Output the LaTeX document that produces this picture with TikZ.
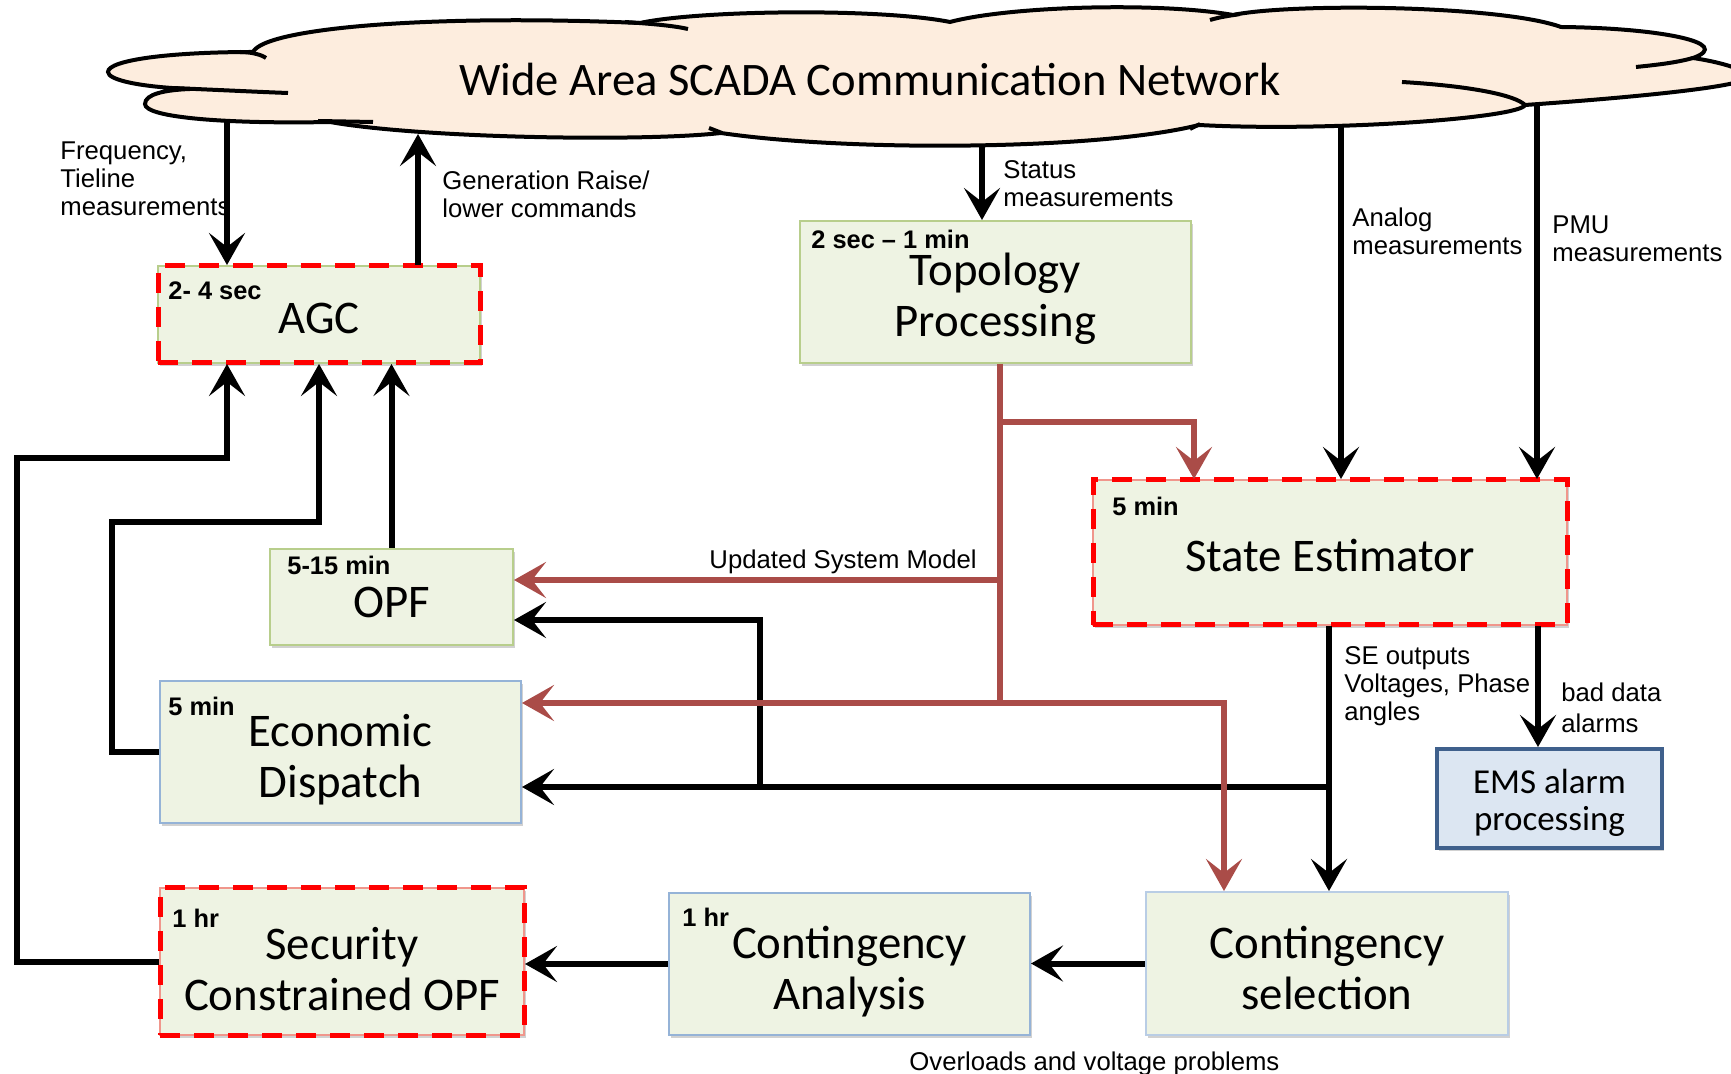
\documentclass[tikz,border=0pt]{standalone}
\usepackage{fontspec}
\newfontfamily\boxfont{Carlito}
\newfontfamily\lblfont{Liberation Sans}
\usetikzlibrary{arrows.meta,shadows}

\definecolor{cloudfill}{RGB}{253,237,222}
\definecolor{boxfill}{RGB}{238,243,227}
\definecolor{greenedge}{RGB}{184,206,140}
\definecolor{blueedge}{RGB}{149,179,215}
\definecolor{paleblueedge}{RGB}{185,205,229}
\definecolor{pinkedge}{RGB}{240,150,140}
\definecolor{critred}{RGB}{255,0,0}
\definecolor{emsfill}{RGB}{220,230,242}
\definecolor{emsedge}{RGB}{63,96,140}
\definecolor{modelred}{RGB}{170,76,72}

% invisible strut that sets the top of a block's first text line
\newcommand{\boxstrut}[1]{\rule{0pt}{#1}}

\begin{document}
\begin{tikzpicture}[x=0.5pt,y=-0.5pt,
  every node/.style={inner sep=0pt},
  cloudline/.style={draw=black, line width=2pt},
  block/.style={fill=boxfill, line width=1pt, align=center,
    font=\boxfont\fontsize{23.4}{25.5}\selectfont,
    drop shadow={shadow xshift=0.8pt, shadow yshift=-1.5pt, opacity=0.18, fill=black}},
  greenblock/.style={block, draw=greenedge},
  blueblock/.style={block, draw=blueedge},
  critical/.style={block, draw=#1,
    postaction={draw=critred, line width=2.5pt, dash pattern=on 10pt off 7pt}},
  critical/.default=greenedge,
  emsblock/.style={block, fill=emsfill, draw=emsedge, line width=2pt,
    font=\boxfont\fontsize{17.5}{18.75}\selectfont},
  timing/.style={anchor=west, font=\lblfont\bfseries\fontsize{12.7}{14}\selectfont},
  note/.style={anchor=west, align=left, font=\lblfont\fontsize{12.85}{14}\selectfont},
  flow/.style={line width=3pt, -{Stealth[length=16pt,width=18pt,inset=7pt]}},
  model/.style={flow, draw=modelred},
  modelline/.style={line width=3pt, draw=modelred}
]
\useasboundingbox (0,0) rectangle (1731,1074);
\fill[white] (0,0) rectangle (1731,1074);

% ---- SCADA cloud ----
\filldraw[cloudline, fill=cloudfill]
  (108,72) .. controls (108,60) and (170,52) .. (253,52)
  .. controls (265,28) and (430,14) .. (640,23)
  .. controls (700,10) and (880,8) .. (950,22)
  .. controls (1010,6) and (1160,2) .. (1233,15)
  .. controls (1290,3) and (1500,5) .. (1561,27)
  .. controls (1660,28) and (1735,43) .. (1693,58)
  .. controls (1720,62) and (1748,70) .. (1748,77)
  .. controls (1748,86) and (1640,97) .. (1525,105)
  .. controls (1520,118) and (1330,132) .. (1199,125)
  .. controls (1100,150) and (850,152) .. (721,133)
  .. controls (640,142) and (420,138) .. (330,122)
  .. controls (230,124) and (145,118) .. (145,104)
  .. controls (145,94) and (165,90) .. (190,89)
  .. controls (140,87) and (108,80) .. (108,72) -- cycle;
% inner folds of the cloud
\draw[cloudline] (172,88) .. controls (220,90) and (260,92) .. (288,93);
\draw[cloudline] (318,121) -- (373,122);
\draw[cloudline] (240,52) .. controls (252,52) and (262,55) .. (266,58);
\draw[cloudline] (625,22) .. controls (655,24) and (675,26) .. (688,29);
\draw[cloudline] (1210,20) .. controls (1220,17) and (1228,16) .. (1240,14);
\draw[cloudline] (1693,58) .. controls (1675,63) and (1655,65) .. (1636,67);
\draw[cloudline] (1402,82) .. controls (1470,86) and (1515,95) .. (1525,105);
\draw[cloudline] (709,128) -- (722,133);
\draw[cloudline] (1190,129) -- (1200,124);

\node[font=\boxfont\fontsize{23.3}{26}\selectfont] (scada) at (870,79)
  {Wide Area SCADA Communication Network};

% ---- functional blocks ----
\node[critical=greenedge, minimum width=161pt, minimum height=48.5pt] (agc) at (319,314.5)
  {\boxstrut{19.4pt}AGC};
\node[greenblock, minimum width=195.5pt, minimum height=71pt] (topo) at (995.5,292)
  {\boxstrut{22.8pt}Topology\\Processing};
\node[critical=pinkedge, minimum width=237pt, minimum height=72.5pt] (se) at (1330,552.5)
  {\boxstrut{19.6pt}State Estimator};
\node[greenblock, minimum width=121.5pt, minimum height=48pt] (opf) at (391.5,597)
  {\boxstrut{20.5pt}OPF};
\node[blueblock, minimum width=180.5pt, minimum height=71pt] (ed) at (340.5,752)
  {\boxstrut{23.5pt}Economic\\Dispatch};
\node[emsblock, minimum width=112.5pt, minimum height=49.5pt] (ems) at (1549.5,798.5)
  {\boxstrut{16.4pt}EMS alarm\\processing};
\node[critical=pinkedge, minimum width=182pt, minimum height=73.5pt] (scopf) at (342,961.5)
  {\boxstrut{23.5pt}Security\\Constrained OPF};
\node[blueblock, minimum width=180.5pt, minimum height=71pt] (ca) at (849.5,964)
  {\boxstrut{23.5pt}Contingency\\Analysis};
\node[block, draw=paleblueedge, minimum width=181pt, minimum height=71.5pt] (cs) at (1327,963.5)
  {\boxstrut{20.2pt}Contingency\\selection};

% execution periods
\node[timing] (t-agc) at (168,291) {2- 4 sec};
\node[timing] (t-topo) at (811,239) {2 sec – 1 min};
\node[timing] (t-se) at (1112,506) {5 min};
\node[timing] (t-opf) at (287,565) {5-15 min};
\node[timing] (t-ed) at (168,706) {5 min};
\node[timing] (t-scopf) at (172,918) {1 hr};
\node[timing] (t-ca) at (682,917) {1 hr};

% ---- connector anchors ----
\coordinate (c-freq) at (227,120);
\coordinate (c-gen) at (418,134);
\coordinate (c-status) at (982,146);
\coordinate (c-analog) at (1341,127);
\coordinate (c-pmu) at (1537,103);
\coordinate (col-se) at (1329,787);
\coordinate (col-opf) at (760,787);
\coordinate (bend-opf) at (760,620);
\coordinate (col-bad) at (1538,0);
\coordinate (m-se) at (1000,422);
\coordinate (m-se2) at (1194,422);
\coordinate (m-opf) at (1000,580);
\coordinate (m-ed) at (1000,703);
\coordinate (m-cs) at (1224,703);

% measurements and commands through the network
\draw[flow] (c-freq) -- (c-freq |- agc.north);
\draw[flow] (agc.north -| c-gen) -- (c-gen);
\draw[flow] (c-status) -- (c-status |- topo.north);
\draw[flow] (c-analog) -- (c-analog |- se.north);
\draw[flow] (c-pmu) -- (c-pmu |- se.north);

% state estimator outputs
\draw[flow] (se.south -| col-se) -- (col-se |- cs.north);
\draw[flow] (col-se) -- (col-se -| ed.east);
\draw[flow] (col-opf) -- (bend-opf) -- (bend-opf -| opf.east);
\draw[flow] (se.south -| col-bad) -- (col-bad |- ems.north);

% contingency chain
\draw[flow] (cs.west) -- (cs.west -| ca.east);
\draw[flow] (ca.west) -- (ca.west -| scopf.east);

% set points back to AGC
\draw[flow] (scopf.west) -| (17,458) -| (agc.south -| c-freq);
\draw[flow] (ed.west) -| (112,522) -| (agc.south);
\draw[flow] (opf.north) -- (opf.north |- agc.south);

% updated system model from topology processing
\draw[modelline] (topo.south -| m-se) -- (m-ed);
\draw[model] (m-se) -- (m-se2) -- (m-se2 |- se.north);
\draw[model] (m-opf) -- (m-opf -| opf.east);
\draw[model] (m-ed) -- (m-ed -| ed.east);
\draw[model] (m-ed) -- (m-cs) -- (m-cs |- cs.north);

% ---- labels ----
\node[note] (n-freq) at (60,179) {Frequency,\\Tieline\\measurements};
\node[note] (n-gen) at (442,194) {Generation Raise/\\lower commands};
\node[note] (n-status) at (1003,184) {Status\\measurements};
\node[note] (n-analog) at (1352,231) {Analog\\measurements};
\node[note] (n-pmu) at (1552,239) {PMU\\measurements};
\node[note] (n-seout) at (1344,686) {SE outputs\\Voltages, Phase\\angles};
\node[note, font=\lblfont\fontsize{12.85}{15.5}\selectfont] (n-bad) at (1561,707.5) {bad data\\alarms};
\node[note, anchor=east] (n-model) at (977,561.5) {Updated System Model};
\node[note] (n-over) at (909,1063.5) {Overloads and voltage problems};
\end{tikzpicture}
\end{document}
